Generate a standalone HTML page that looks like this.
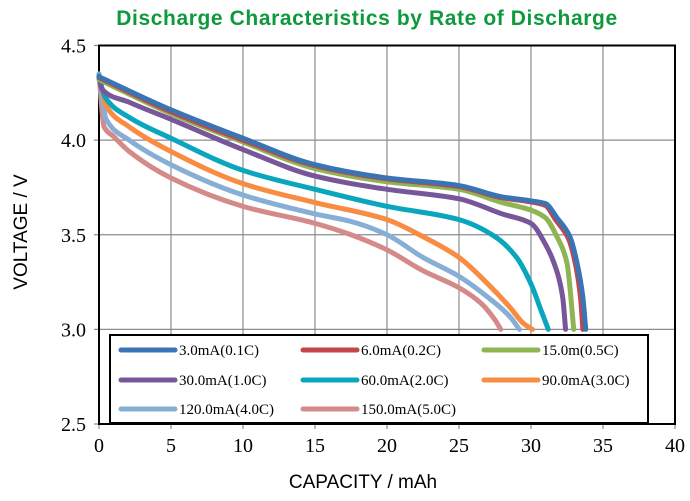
<!DOCTYPE html>
<html><head><meta charset="utf-8">
<style>
html,body{margin:0;padding:0;background:#fff;width:690px;height:501px;overflow:hidden}
svg{display:block}
.tk{font-family:"Liberation Serif",serif;font-size:20px;fill:#000}
.lg{font-family:"Liberation Serif",serif;font-size:15px;fill:#000}
.at{font-family:"Liberation Sans",sans-serif;font-size:19px;fill:#000}
</style></head>
<body>
<svg id="chart" width="690" height="501">
<text x="367" y="25" text-anchor="middle" font-family="Liberation Sans,sans-serif" font-weight="bold" font-size="21" letter-spacing="0.6" fill="#0e9a3c">Discharge Characteristics by Rate of Discharge</text>
<g id="grid"></g>
<g id="series"></g>
<g id="legend"></g>
<text class="at" x="0" y="0" text-anchor="middle" transform="translate(27,232) rotate(-90)">VOLTAGE / V</text>
<text class="at" x="363" y="488" text-anchor="middle">CAPACITY / mAh</text>
</svg>
<script>
const xTicks=[0,5,10,15,20,25,30,35,40];
const yTicks=[2.5,3.0,3.5,4.0,4.5];
const yTickLabels=["2.5","3.0","3.5","4.0","4.5"];
const seriesNames=["3.0mA(0.1C)","6.0mA(0.2C)","15.0m(0.5C)","30.0mA(1.0C)","60.0mA(2.0C)","90.0mA(3.0C)","120.0mA(4.0C)","150.0mA(5.0C)"];
const seriesColors=["#3a74b4","#c4464a","#8eb552","#77579a","#0aa6bd","#f98c43","#87afd6","#d58a8a"];
const capBlue=[0,5,10,15,20,25,28,29.9,31,31.8,32.7,33.2,33.6,33.8];
const vBlue=[4.335,4.16,4.01,3.87,3.80,3.76,3.70,3.68,3.665,3.59,3.49,3.35,3.17,3.0];
const capRed=[0,5,10,15,20,25,28,29.9,31,31.7,32.6,33.1,33.45,33.6];
const vRed=[4.33,4.15,4.0,3.865,3.795,3.755,3.695,3.675,3.655,3.58,3.48,3.34,3.16,3.0];
const capGreen=[0,5,10,15,20,25,28,30,31,31.8,32.5,32.97];
const vGreen=[4.32,4.14,3.99,3.85,3.78,3.74,3.67,3.63,3.59,3.49,3.35,3.0];
const capPurple=[0,0.2,2.1,5,10,15,20,25,28,30,31,31.6,32.2,32.4];
const vPurple=[4.33,4.27,4.2,4.11,3.95,3.81,3.74,3.69,3.61,3.56,3.45,3.35,3.17,3.0];
const capTeal=[0,0.4,2.1,5,10,15,20,25,27.5,29,30,30.7,31.2];
const vTeal=[4.34,4.23,4.12,4.01,3.84,3.74,3.65,3.58,3.49,3.38,3.24,3.10,3.0];
const capOrange=[0,0.5,2.1,5,10,15,20,22.5,25,27,28.5,29.5,30.1];
const vOrange=[4.34,4.18,4.07,3.94,3.77,3.67,3.58,3.49,3.38,3.24,3.12,3.03,3.0];
const capLtBlue=[0,0.5,2.1,5,10,15,17.5,20,22.5,25,27,28.5,29.2];
const vLtBlue=[4.35,4.11,4.0,3.87,3.71,3.61,3.57,3.50,3.38,3.28,3.17,3.07,3.0];
const capPink=[0,0.35,1.0,2.1,5,10,15,17.5,20,22.5,25,26.5,27.5,27.9];
const vPink=[4.35,4.07,4.02,3.94,3.80,3.65,3.56,3.50,3.42,3.31,3.22,3.14,3.05,3.0];
const allCaps=[capBlue,capRed,capGreen,capPurple,capTeal,capOrange,capLtBlue,capPink];
const allVs=[vBlue,vRed,vGreen,vPurple,vTeal,vOrange,vLtBlue,vPink];

const NS="http://www.w3.org/2000/svg";
const X0=99,X1=675,Y0=424,Y1=45.5;
function sx(c){return X0+(c-0)/(40-0)*(X1-X0);}
function sy(v){return Y0-(v-2.5)/(4.5-2.5)*(Y0-Y1);}
function mk(tag,attrs,parent){const e=document.createElementNS(NS,tag);for(const k in attrs)e.setAttribute(k,attrs[k]);parent.appendChild(e);return e;}
const grid=document.getElementById('grid');
xTicks.forEach((t,i)=>{
  const l=mk('line',{x1:sx(t),x2:sx(t),y1:Y1,y2:Y0+5,stroke:'#8c8c8c','stroke-width':1.2},grid);
  
  
  const tx=mk('text',{x:sx(t),y:452,'text-anchor':'middle',class:'tk'},grid);
  tx.textContent=String(t);
  
  
});
yTicks.forEach((t,i)=>{
  const l=mk('line',{x1:X0-5,x2:X1,y1:sy(t),y2:sy(t),stroke:'#8c8c8c','stroke-width':1.2},grid);
  
  
  const tx=mk('text',{x:86,y:sy(t)+7,'text-anchor':'end',class:'tk'},grid);
  tx.textContent=yTickLabels[i];
  
  
});
const frame=mk('rect',{x:X0,y:Y1,width:X1-X0,height:Y0-Y1,fill:'none',stroke:'#000','stroke-width':2},grid);



// monotone cubic (Fritsch-Carlson) in x
function smoothPath(pts){
  const n=pts.length;const dx=[],m=[],t=[];
  for(let i=0;i<n-1;i++){dx[i]=pts[i+1][0]-pts[i][0];m[i]=(pts[i+1][1]-pts[i][1])/dx[i];}
  t[0]=m[0];t[n-1]=m[n-2];
  for(let i=1;i<n-1;i++){
    if(m[i-1]*m[i]<=0)t[i]=0;
    else{const w1=2*dx[i]+dx[i-1],w2=dx[i]+2*dx[i-1];t[i]=(w1+w2)/(w1/m[i-1]+w2/m[i]);}
  }
  let d='M'+pts[0][0]+','+pts[0][1];
  for(let i=0;i<n-1;i++){
    const h=dx[i]/3;
    d+=' C'+(pts[i][0]+h)+','+(pts[i][1]+t[i]*h)+' '+(pts[i+1][0]-h)+','+(pts[i+1][1]-t[i+1]*h)+' '+pts[i+1][0]+','+pts[i+1][1];
  }
  return d;
}
const sg=document.getElementById('series');
for(let s=allCaps.length-1;s>=0;s--){
  const pts=allCaps[s].map((c,i)=>[sx(c),sy(allVs[s][i])]);
  const p=mk('path',{d:smoothPath(pts),fill:'none',stroke:seriesColors[s],'stroke-width':5,'stroke-linecap':'round','stroke-linejoin':'round'},sg);
  
  
}
const lg=document.getElementById('legend');
const box=mk('rect',{x:110,y:335,width:538,height:88,fill:'#fff',stroke:'#000','stroke-width':2},lg);


const colX=[121,303,484],rowY=[350,380,409];
seriesNames.forEach((n,i)=>{
  const cx=colX[i%3],cy=rowY[Math.floor(i/3)];
  const l=mk('line',{x1:cx,x2:cx+54,y1:cy,y2:cy,stroke:seriesColors[i],'stroke-width':5,'stroke-linecap':'round'},lg);
  
  
  const t=mk('text',{x:cx+58,y:cy+5,class:'lg'},lg);
  t.textContent=n;
  
  
});
</script>
</body></html>
